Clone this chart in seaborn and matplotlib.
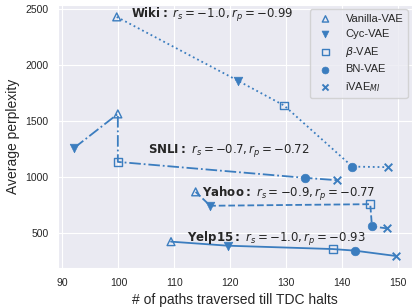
import matplotlib
matplotlib.use("Agg")
from matplotlib import pyplot as plt
import pandas as pd
import seaborn as sns

models = ['Vanilla-VAE', 'Cyc-VAE', r'$\beta$-VAE', 'BN-VAE', r'iVAE$_{MI}$']
datasets = ['Wiki', 'SNLI', 'Yahoo', 'Yelp15']

# paths traversed (x) and average perplexity (y), in model order
wiki_x = [99.7, 121.4, 129.6, 141.8, 148.2]
wiki_y = [2430, 1860, 1640, 1095, 1090]
snli_x = [99.9, 92.1, 99.9, 133.3, 139.0]
snli_y = [1565, 1262, 1137, 995, 974]
yahoo_x = [113.8, 116.4, 145.0, 145.3, 148.0]
yahoo_y = [870, 746, 760, 562, 544]
yelp_x = [109.4, 119.5, 138.3, 142.2, 149.6]
yelp_y = [426, 390, 360, 346, 298]

rs = [-1.0, -0.7, -0.9, -1.0]
rp = [-0.99, -0.72, -0.77, -0.93]

# order in which the connecting line passes the points
snli_order = [1, 0, 2, 3, 4]

color = '#3b7dbf'

rows = []
for name, xs, ys in zip(datasets, [wiki_x, snli_x, yahoo_x, yelp_x],
                        [wiki_y, snli_y, yahoo_y, yelp_y]):
    for m, x, y in zip(models, xs, ys):
        rows.append({'dataset': name, 'model': m, 'paths': x, 'ppl': y})
df = pd.DataFrame(rows)

sns.set_style("darkgrid")
plt.rcParams['font.family'] = ['Liberation Sans', 'DejaVu Sans']

f, ax = plt.subplots(figsize=(4.15, 3.08), dpi=100)

styles = {'Wiki': ':', 'SNLI': '-.', 'Yahoo': '--', 'Yelp15': '-'}
for name in datasets:
    sub = df[df['dataset'] == name]
    if name == 'SNLI':
        sub = sub.iloc[snli_order]
    sns.lineplot(x='paths', y='ppl', data=sub, sort=False, estimator=None,
                 color=color, linestyle=styles[name], linewidth=1.3, ax=ax)

markers = {'Vanilla-VAE': ('^', False), 'Cyc-VAE': ('v', True),
           r'$\beta$-VAE': ('s', False), 'BN-VAE': ('o', True),
           r'iVAE$_{MI}$': ('x', True)}
for m in models:
    sub = df[df['model'] == m]
    mk, filled = markers[m]
    if mk == 'x':
        sns.scatterplot(x='paths', y='ppl', data=sub, marker='x', color=color,
                        s=30, linewidth=1.4, label=m, ax=ax, zorder=3)
    elif filled:
        sns.scatterplot(x='paths', y='ppl', data=sub, marker=mk, color=color,
                        edgecolor=color, s=38, label=m, ax=ax, zorder=3)
    else:
        sns.scatterplot(x='paths', y='ppl', data=sub, marker=mk,
                        facecolor='none', edgecolor=color, s=32,
                        linewidth=1.0, label=m, ax=ax, zorder=3)

text_pos = {'Wiki': (102.2, 2447), 'SNLI': (105.2, 1238),
            'Yahoo': (115.0, 847), 'Yelp15': (112.2, 447)}
for name, a, b in zip(datasets, rs, rp):
    tx, ty = text_pos[name]
    ax.text(tx, ty, r'$\mathbf{%s:}\ r_s=%s, r_p=%s$' % (name, a, b),
            fontsize=8.5, va='center', ha='left', zorder=4)

ax.set_xlabel('# of paths traversed till TDC halts', fontsize=10)
ax.set_ylabel('Average perplexity', fontsize=10)
ax.tick_params(labelsize=7.5)
ax.set_xticks([90, 100, 110, 120, 130, 140, 150])
ax.set_yticks([500, 1000, 1500, 2000, 2500])
ax.legend(loc='upper right', fontsize=8, frameon=True, markerscale=0.8,
          borderaxespad=0.4)

f.subplots_adjust(left=0.14, right=0.993, top=0.984, bottom=0.13)
f.savefig('out.png', dpi=100)
